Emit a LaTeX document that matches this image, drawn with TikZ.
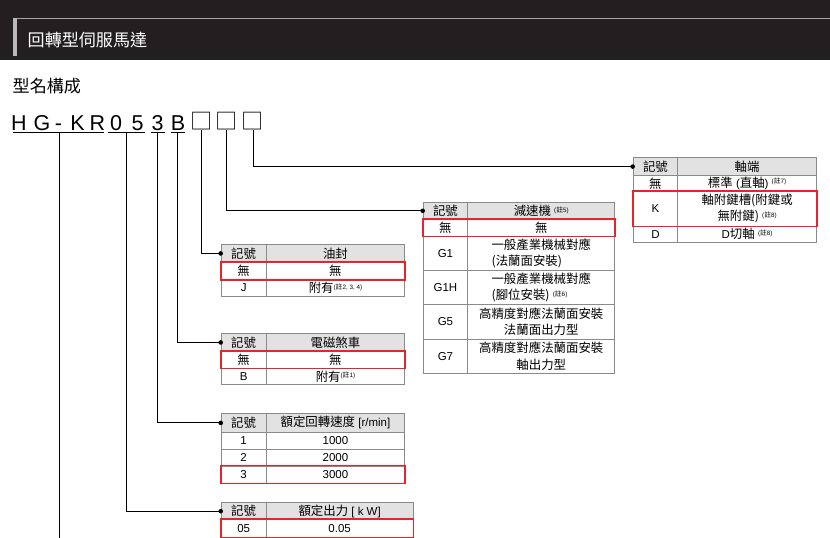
\documentclass[tikz,border=0pt]{standalone}
\usepackage{fontspec}
\setmainfont{Liberation Sans}
\newfontfamily\cjk[Scale=1.08]{Noto Sans CJK TC}
\newcommand\zh[1]{{\cjk #1}}
\newcommand\note[1]{\raisebox{3.5pt}{\fontsize{6.3}{6.3}\selectfont(\zh{註}#1)}}
\definecolor{band}{HTML}{231F20}
\definecolor{hdr}{HTML}{E2E2E2}
\definecolor{bord}{HTML}{8A8A8A}
\definecolor{hl}{HTML}{E8232A}
\begin{document}
\begin{tikzpicture}[x=1pt,y=-1pt,
  cell/.style={draw=bord, line width=0.9pt, inner sep=0pt, anchor=north west,
               font=\fontsize{11.5}{16.5}\selectfont, align=center},
  hcell/.style={cell, fill=hdr},
  cs/.style 2 args={minimum width=#1, minimum height=#2},
  conn/.style={draw=black, line width=1pt},
  hlbox/.style={draw=hl, line width=1.6pt},
  mch/.style={font=\fontsize{21.5}{21.5}\selectfont, anchor=base, inner sep=0pt},
  boxch/.style={font=\cjk\fontsize{20.5}{20.5}\selectfont, anchor=center, inner sep=0pt},
  uline/.style={draw=black, line width=1.2pt}]
\useasboundingbox (0,0) rectangle (830,538);
% header band
\fill[band] (0,0) rectangle (830,59.5);
\draw[gray!70, line width=1.2pt] (13,18.3) -- (830,18.3);
\fill[gray!55] (12.5,18.3) rectangle (17,56);
\node[anchor=west, text=white, font=\cjk\fontsize{15.8}{16}\selectfont, inner sep=0pt] (title) at (27.5,40) {回轉型伺服馬達};
\node[anchor=west, font=\cjk\fontsize{15.8}{16}\selectfont, inner sep=0pt] (sub) at (12.5,86) {型名構成};
% model string
\node[mch] (cH) at (19,130.5) {H};
\node[mch] (cG) at (42,130.5) {G};
\node[mch] (cd) at (58.5,130.5) {-};
\node[mch] (cK) at (77.5,130.5) {K};
\node[mch] (cR) at (97.5,130.5) {R};
\node[mch] (c0) at (116,130.5) {0};
\node[mch] (c5) at (137.5,130.5) {5};
\node[mch] (c3) at (157.5,130.5) {3};
\node[mch] (cB) at (178,130.5) {B};
\node[boxch] (b1) at (201.3,121.5) {□};
\node[boxch] (b2) at (226.7,121.5) {□};
\node[boxch] (b3) at (253,121.5) {□};
\draw[uline] (12.7,132.7) -- (104,132.7);
\draw[uline] (108,132.7) -- (144.5,132.7);
\draw[uline] (151,132.7) -- (164.5,132.7);
\draw[uline] (171,132.7) -- (185,132.7);
\coordinate (tHG) at (59.3,132.7);
\coordinate (t05) at (126,132.7);
\coordinate (t3) at (157.3,132.7);
\coordinate (tB) at (177.7,132.7);
\coordinate (tb1) at (201.3,130);
\coordinate (tb2) at (226.7,130);
\coordinate (tb3) at (253.3,130);
\coordinate (endHG) at (59.3,538);
% oil seal table
\node[hcell, cs={45}{17.4}] (os-h1) at (220.7,244.3) {\zh{記號}};
\node[hcell, cs={138.6}{17.4}] (os-h2) at (265.7,244.3) {\zh{油封}};
\node[cell, cs={45}{17.2}] (os-a1) at (220.7,261.7) {\zh{無}};
\node[cell, cs={138.6}{17.2}] (os-a2) at (265.7,261.7) {\zh{無}};
\node[cell, cs={45}{17}] (os-b1) at (220.7,278.9) {J};
\node[cell, cs={138.6}{17}] (os-b2) at (265.7,278.9) {\zh{附有}\note{2, 3, 4}};
\draw[hlbox] (os-a1.north west) rectangle (os-a2.south east);
% brake table
\node[hcell, cs={45}{17.4}] (br-h1) at (220.7,333.3) {\zh{記號}};
\node[hcell, cs={138.6}{17.4}] (br-h2) at (265.7,333.3) {\zh{電磁煞車}};
\node[cell, cs={45}{17}] (br-a1) at (220.7,350.7) {\zh{無}};
\node[cell, cs={138.6}{17}] (br-a2) at (265.7,350.7) {\zh{無}};
\node[cell, cs={45}{16.6}] (br-b1) at (220.7,367.7) {B};
\node[cell, cs={138.6}{16.6}] (br-b2) at (265.7,367.7) {\zh{附有}\note{1}};
\draw[hlbox] (br-a1.north west) rectangle (br-a2.south east);
% speed table
\node[hcell, cs={45}{18.3}] (sp-h1) at (220.7,413.3) {\zh{記號}};
\node[hcell, cs={138.6}{18.3}] (sp-h2) at (265.7,413.3) {\zh{額定回轉速度} [r/min]};
\node[cell, cs={45}{17}] (sp-a1) at (220.7,431.6) {1};
\node[cell, cs={138.6}{17}] (sp-a2) at (265.7,431.6) {1000};
\node[cell, cs={45}{17}] (sp-b1) at (220.7,448.6) {2};
\node[cell, cs={138.6}{17}] (sp-b2) at (265.7,448.6) {2000};
\node[cell, cs={45}{17}] (sp-c1) at (220.7,465.6) {3};
\node[cell, cs={138.6}{17}] (sp-c2) at (265.7,465.6) {3000};
\draw[hlbox] (sp-c1.north west) rectangle (sp-c2.south east);
% output table
\node[hcell, cs={45}{16.9}] (op-h1) at (220.7,502.3) {\zh{記號}};
\node[hcell, cs={147}{16.9}] (op-h2) at (265.7,502.3) {\zh{額定出力} [ k W]};
\node[cell, cs={45}{18}] (op-a1) at (220.7,519.2) {05};
\node[cell, cs={147}{18}] (op-a2) at (265.7,519.2) {0.05};
\draw[hlbox] (op-a1.north west) rectangle (op-a2.south east);
% reducer table
\node[hcell, cs={44.6}{17.3}] (rd-h1) at (422.7,201.7) {\zh{記號}};
\node[hcell, cs={147}{17.3}] (rd-h2) at (467.3,201.7) {\zh{減速機} \note{5}};
\node[cell, cs={44.6}{16.7}] (rd-a1) at (422.7,219) {\zh{無}};
\node[cell, cs={147}{16.7}] (rd-a2) at (467.3,219) {\zh{無}};
\node[cell, cs={44.6}{34.3}] (rd-b1) at (422.7,235.7) {G1};
\node[cell, cs={147}{34.3}, align=left] (rd-b2) at (467.3,235.7) {\zh{一般產業機械對應}\\\zh{(法蘭面安裝)}};
\node[cell, cs={44.6}{34.3}] (rd-c1) at (422.7,270) {G1H};
\node[cell, cs={147}{34.3}, align=left] (rd-c2) at (467.3,270) {\zh{一般產業機械對應}\\\zh{(腳位安裝)} \note{6}};
\node[cell, cs={44.6}{34.3}] (rd-d1) at (422.7,304.3) {G5};
\node[cell, cs={147}{34.3}] (rd-d2) at (467.3,304.3) {\zh{高精度對應法蘭面安裝}\\\zh{法蘭面出力型}};
\node[cell, cs={44.6}{34.3}] (rd-e1) at (422.7,338.6) {G7};
\node[cell, cs={147}{34.3}] (rd-e2) at (467.3,338.6) {\zh{高精度對應法蘭面安裝}\\\zh{軸出力型}};
\draw[hlbox] (rd-a1.north west) rectangle (rd-a2.south east);
% shaft end table
\node[hcell, cs={44.6}{17.6}] (sh-h1) at (632.7,157.3) {\zh{記號}};
\node[hcell, cs={138.7}{17.6}] (sh-h2) at (677.3,157.3) {\zh{軸端}};
\node[cell, cs={44.6}{15.9}] (sh-a1) at (632.7,174.9) {\zh{無}};
\node[cell, cs={138.7}{15.9}] (sh-a2) at (677.3,174.9) {\zh{標準} (\zh{直軸}) \note{7}};
\node[cell, cs={44.6}{34.9}] (sh-b1) at (632.7,190.8) {K};
\node[cell, cs={138.7}{34.9}] (sh-b2) at (677.3,190.8) {\zh{軸附鍵槽(附鍵或}\\\zh{無附鍵)} \note{8}};
\node[cell, cs={44.6}{16}] (sh-c1) at (632.7,225.7) {D};
\node[cell, cs={138.7}{16}] (sh-c2) at (677.3,225.7) {D\zh{切軸} \note{8}};
\draw[hlbox] (sh-b1.north west) rectangle (sh-b2.south east);
% connectors
\draw[conn] (tHG) -- (endHG);
\draw[conn] (t05) |- (op-h1.west);
\draw[conn] (t3) |- (sp-h1.west);
\draw[conn] (tB) |- (br-h1.west);
\draw[conn] (tb1) |- (os-h1.west);
\draw[conn] (tb2) |- (rd-h1.west);
\draw[conn] (tb3) |- (sh-h1.west);
\foreach \t in {op-h1,sp-h1,br-h1,os-h1,rd-h1,sh-h1}
  \fill (\t.west) circle (2.3);
\end{tikzpicture}
\end{document}
